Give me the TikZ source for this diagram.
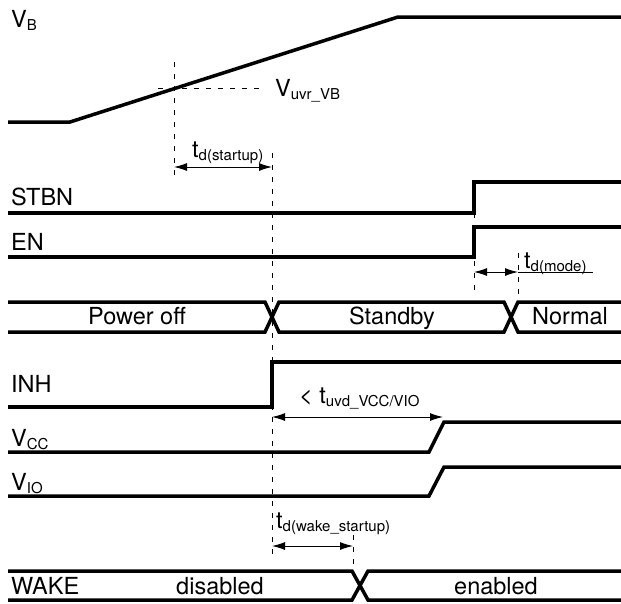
\documentclass[tikz,border=0pt]{standalone}
\usepackage{fontspec}
\setmainfont{TeX Gyre Heros}
\usetikzlibrary{arrows.meta}
\newcommand{\subtxt}[1]{\raisebox{-3pt}{\fontsize{15}{15}\selectfont #1}}
\begin{document}
\begin{tikzpicture}[x=1pt, y=-1pt, every node/.style={font=\fontsize{23.5}{26}\selectfont, inner sep=0pt}]
  \tikzstyle{sig}=[line width=3.5pt]
  \tikzstyle{guide}=[line width=0.8pt, dash pattern=on 5pt off 7pt]
  \tikzstyle{dim}=[line width=1pt, {Latex[length=13pt,width=8pt]}-{Latex[length=13pt,width=8pt]}]
  \tikzstyle{lbl}=[anchor=base west]
  \useasboundingbox (0,0) rectangle (621,603);
  % signal names
  \node[lbl] (vb) at (11,27) {V\subtxt{B}};
  \node[lbl] (stbn) at (11,205) {STBN};
  \node[lbl] (en) at (11,250) {EN};
  \node[lbl] (inh) at (11,392) {INH};
  \node[lbl] (vcc) at (11,446) {V\subtxt{CC}};
  \node[lbl] (vio) at (11,490) {V\subtxt{IO}};
  \node[lbl] (wake) at (11,594) {WAKE};
  % waveforms
  \draw[sig] (8,122) -- (70,122) -- (398,17) -- (621,17);
  \draw[sig] (8,213) -- (474,213) -- (474,182) -- (621,182);
  \draw[sig] (8,257) -- (474,257) -- (474,227) -- (621,227);
  \draw[sig] (8,302) -- (265,302) -- (279,332) -- (504,332) -- (518,302) -- (621,302);
  \draw[sig] (8,332) -- (265,332) -- (279,302) -- (504,302) -- (518,332) -- (621,332);
  \draw[sig] (8,407) -- (272,407) -- (272,362) -- (621,362);
  \draw[sig] (8,452) -- (429,452) -- (444,422) -- (621,422);
  \draw[sig] (8,496) -- (429,496) -- (444,467) -- (621,467);
  \draw[sig] (8,571) -- (352,571) -- (368,600) -- (621,600);
  \draw[sig] (8,600) -- (352,600) -- (368,571) -- (621,571);
  % states
  \node[anchor=base] (poff) at (137,324) {Power off};
  \node[anchor=base] (stby) at (392,324) {Standby};
  \node[anchor=base] (norm) at (570,324) {Normal};
  \node[anchor=base] (dis) at (220,594) {disabled};
  \node[anchor=base] (ena) at (496,594) {enabled};
  % guide lines
  \draw[guide] (174,62) -- (174,181);
  \draw[guide] (158,88) -- (263,88);
  \draw[guide] (272,153) -- (272,556);
  \draw[guide] (474,213) -- (474,290);
  \draw[guide] (518,253) -- (518,303);
  \draw[guide] (353,535) -- (353,578);
  % timings
  \node[lbl] (uvr) at (275,96) {V\subtxt{uvr\_VB}};
  \coordinate (su0) at (174,167); \coordinate (su1) at (272,167);
  \draw[dim] (su0) -- (su1);
  \node[lbl] (tsu) at (192,157) {t\subtxt{d(startup)}};
  \coordinate (md0) at (474,272); \coordinate (md1) at (518,272);
  \coordinate (mdu) at (593,272);
  \draw[dim] (md0) -- (md1);
  \draw[line width=1pt] (md1) -- (mdu);
  \node[lbl] (tmd) at (524,268) {t\subtxt{d(mode)}};
  \coordinate (uv0) at (272,417); \coordinate (uv1) at (443,417);
  \draw[dim] (uv0) -- (uv1);
  \node[lbl] (tuv) at (299,403) {< t\subtxt{uvd\_VCC/VIO}};
  \coordinate (wk0) at (272,546); \coordinate (wk1) at (353,546);
  \draw[dim] (wk0) -- (wk1);
  \node[lbl] (twk) at (276,528) {t\subtxt{d(wake\_startup)}};
\end{tikzpicture}
\end{document}
